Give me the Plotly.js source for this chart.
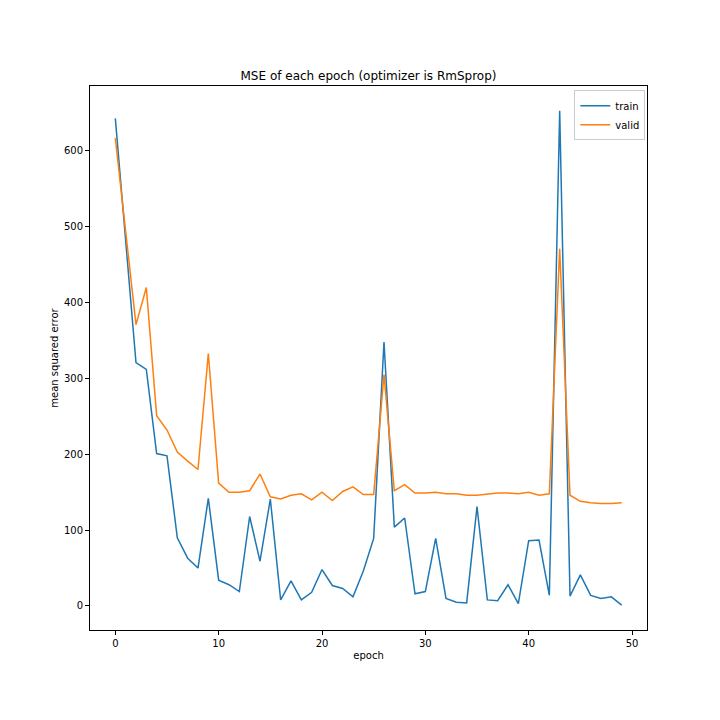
<!DOCTYPE html>
<html>
<head>
<meta charset="utf-8">
<script src="https://cdn.plot.ly/plotly-3.0.1.min.js"></script>
<style>html,body{margin:0;padding:0;background:#fff;}</style>
</head>
<body>
<div id="chart" style="width:720px;height:720px;"></div>
<script>
const epochs = Array.from({length: 50}, (_, i) => i);
const trainMSE = [643, 482, 321, 312, 201, 198, 90, 63, 50, 142,
                  34, 28, 19, 118, 59, 141, 8, 33, 8, 18,
                  48, 27, 23, 12, 46, 89, 348, 104, 116, 16,
                  19, 89, 10, 5, 4, 131, 8, 7, 28, 3,
                  86, 87, 14, 653, 13, 41, 14, 10, 12, 1];
const validMSE = [617, 495, 371, 420, 251, 232, 203, 191, 180, 333,
                  162, 150, 150, 152, 174, 144, 141, 146, 148, 140,
                  150, 139, 151, 157, 147, 147, 305, 152, 160, 149,
                  149, 150, 148, 148, 146, 146, 147, 149, 149, 148,
                  150, 146, 148, 471, 146, 138, 136, 135, 135, 136];
const xTicks = [0, 10, 20, 30, 40, 50];
const yTicks = [0, 100, 200, 300, 400, 500, 600];

const font = {family: 'DejaVu Sans, sans-serif', size: 10, color: '#000'};

const data = [
  {x: epochs, y: trainMSE, name: 'train', type: 'scatter', mode: 'lines',
   line: {color: '#1f77b4', width: 1.5}},
  {x: epochs, y: validMSE, name: 'valid', type: 'scatter', mode: 'lines',
   line: {color: '#ff7f0e', width: 1.5}}
];

const axisCommon = {
  showgrid: false, zeroline: false,
  showline: true, mirror: true, linecolor: '#000', linewidth: 1,
  ticks: 'outside', ticklen: 4, tickwidth: 1, tickcolor: '#000',
  tickfont: font, automargin: false
};

const layout = {
  width: 720, height: 720,
  paper_bgcolor: '#fff', plot_bgcolor: '#fff',
  margin: {l: 90, r: 73, t: 86, b: 90},
  font: font,
  title: {text: 'MSE of each epoch (optimizer is RmSprop)',
          font: {family: 'DejaVu Sans, sans-serif', size: 12, color: '#000'},
          x: 0.5, xref: 'paper', y: 1 - 76/720, yanchor: 'middle'},
  xaxis: Object.assign({}, axisCommon, {
    range: [-2.45, 51.45], tickvals: xTicks, ticktext: xTicks.map(String),
    title: {text: 'epoch', font: font, standoff: 3}
  }),
  yaxis: Object.assign({}, axisCommon, {
    range: [-31.7, 685.7], tickvals: yTicks, ticktext: yTicks.map(String),
    title: {text: 'mean squared error', font: font, standoff: 3}
  }),
  showlegend: true,
  legend: {x: 0.997, y: 0.992, xanchor: 'right', yanchor: 'top',
           bgcolor: 'rgba(255,255,255,0.8)', bordercolor: '#ccc', borderwidth: 1,
           font: font, tracegroupgap: 0, itemwidth: 30}
};

Plotly.newPlot('chart', data, layout, {displayModeBar: false, staticPlot: true});
</script>
</body>
</html>
